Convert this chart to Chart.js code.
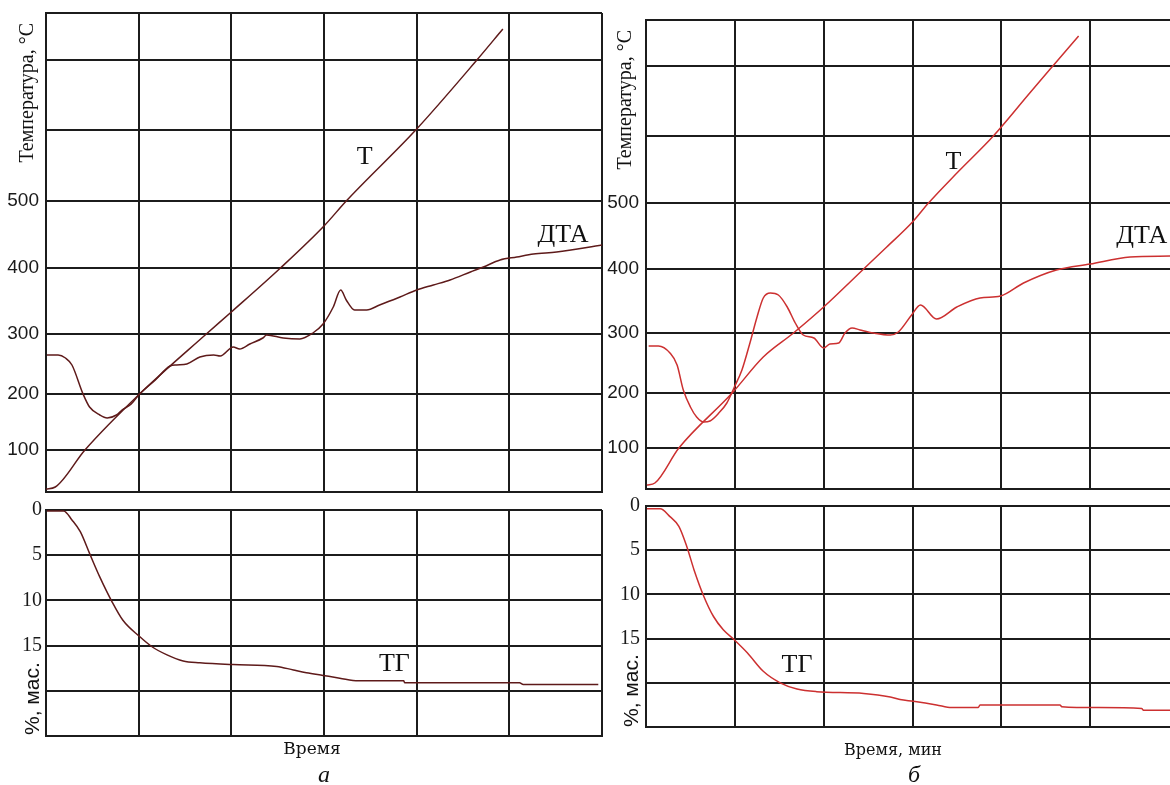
<!DOCTYPE html>
<html lang="ru">
<head>
<meta charset="utf-8">
<title>ДТА / ТГ</title>
<script src="https://cdn.jsdelivr.net/npm/chart.js@4.4.1/dist/chart.umd.min.js"></script>
<style>
  html, body { margin: 0; padding: 0; background: #fff; }
  body { position: relative; width: 1170px; height: 785px; overflow: hidden; }
  canvas { position: absolute; }
  #aTop { left: 0; top: 0; }
  #aTg { left: 0; top: 495px; }
  #bTop { left: 590px; top: 0; }
  #bTg { left: 590px; top: 495px; }
</style>
</head>
<body>
<canvas id="aTop" width="612" height="500"></canvas>
<canvas id="aTg" width="612" height="290"></canvas>
<canvas id="bTop" width="600" height="495"></canvas>
<canvas id="bTg" width="600" height="290"></canvas>
<script>
// time axis in grid divisions
const timeTicks = [0, 1, 2, 3, 4, 5, 6];

// temperature axis: chart deflection, grid lines are not evenly spaced
const aTempTicks = [0, 42, 98, 158, 224, 291, 362, 432, 479];
const bTempTicks = [0, 41, 96, 156, 220, 286, 353, 423, 469];
const tempLabels = ['', '100', '200', '300', '400', '500', '', '', ''];

// mass loss, %
const tgTicks = [0, 5, 10, 15, 20, 25];
const tgLabels = ['0', '5', '10', '15', '', ''];

// panel a  [time, value]
const aT = [[0, 3], [0.10, 5], [0.42, 42], [1.01, 98], [1.73, 158], [2.00, 180], [2.53, 224],
  [3.00, 266], [3.24, 291], [4.00, 363], [4.65, 432], [4.93, 463]];
const aDta = [[0.01, 137], [0.13, 137], [0.21, 134], [0.28, 127], [0.40, 98], [0.47, 85], [0.58, 77],
  [0.66, 74], [0.76, 77], [0.82, 82], [0.92, 88], [1.01, 98], [1.18, 112], [1.34, 126], [1.41, 127],
  [1.52, 128], [1.66, 135], [1.81, 137], [1.88, 136], [2.02, 145], [2.09, 143], [2.20, 148],
  [2.34, 154], [2.38, 157], [2.56, 154], [2.74, 153], [2.88, 159], [2.99, 168], [3.10, 185],
  [3.18, 202], [3.24, 192], [3.33, 182], [3.46, 182], [3.60, 187], [3.82, 195], [4.00, 202],
  [4.18, 207], [4.36, 212], [4.58, 220], [4.72, 225], [4.90, 232], [5.08, 235], [5.26, 238],
  [5.51, 240], [6.00, 247]];
const aTg = [[0.01, 0.1], [0.19, 0.1], [0.28, 1.1], [0.37, 2.4], [0.47, 4.8], [0.58, 7.4], [0.71, 10.1],
  [0.83, 12.2], [1.01, 14.0], [1.14, 15.1], [1.30, 16.0], [1.48, 16.7], [1.66, 16.9], [2.02, 17.1],
  [2.49, 17.3], [2.67, 17.7], [2.81, 18.0], [2.99, 18.3], [3.17, 18.6], [3.37, 18.9], [3.86, 18.9],
  [3.87, 19.1], [5.11, 19.1], [5.15, 19.3], [5.96, 19.3]];

// panel b
const bT = [[0.01, 4], [0.10, 6], [0.37, 41], [0.97, 96], [1.32, 132], [1.66, 156], [2.00, 182],
  [2.45, 220], [2.71, 242], [3.00, 267], [3.18, 286], [3.50, 316], [3.91, 353], [4.32, 396],
  [4.58, 423], [4.87, 453]];
const bDta = [[0.03, 143], [0.14, 143], [0.27, 136], [0.35, 124], [0.42, 99], [0.50, 82], [0.57, 72],
  [0.65, 67], [0.72, 68], [0.82, 76], [0.91, 86], [0.99, 101], [1.08, 119], [1.17, 146], [1.25, 172],
  [1.32, 191], [1.40, 196], [1.49, 194], [1.59, 182], [1.68, 166], [1.77, 154], [1.89, 151],
  [2.00, 141], [2.07, 145], [2.17, 146], [2.24, 156], [2.32, 161], [2.41, 159], [2.56, 156],
  [2.75, 154], [2.84, 157], [2.99, 174], [3.09, 184], [3.27, 170], [3.50, 182], [3.76, 191],
  [3.99, 193], [4.25, 206], [4.62, 219], [5.00, 225], [5.45, 232], [5.90, 233]];
const bTg = [[0.01, 0.3], [0.16, 0.3], [0.27, 1.2], [0.37, 2.3], [0.46, 4.6], [0.54, 7.2], [0.65, 10.2],
  [0.76, 12.5], [0.87, 14.0], [0.99, 15.1], [1.14, 16.6], [1.32, 18.7], [1.51, 20.0], [1.70, 20.7],
  [1.92, 21.0], [2.45, 21.2], [2.75, 21.6], [2.86, 21.9], [3.01, 22.1], [3.27, 22.5], [3.44, 22.8],
  [3.74, 22.8], [3.76, 22.5], [4.66, 22.5], [4.68, 22.7], [5.09, 22.8], [5.58, 22.9], [5.60, 23.1],
  [5.90, 23.1]];

const GRID = '#1c1c1c';
const pts = arr => arr.map(([x, y]) => ({x, y}));

// curve names, captions and the rotated mass-loss title
const textPlugin = {
	id: 'texts',
	afterDraw(chart, args, opts) {
		const {ctx, chartArea, scales} = chart;
		(opts.items || []).forEach(t => {
			const px = t.dx !== undefined ? chartArea.left + t.dx : scales.x.getPixelForValue(t.x);
			const py = t.dy !== undefined ? chartArea.bottom + t.dy : scales.y.getPixelForValue(t.y);
			ctx.save();
			ctx.fillStyle = '#111';
			ctx.font = t.font;
			ctx.textAlign = t.align || 'center';
			ctx.textBaseline = 'middle';
			ctx.translate(px, py);
			if (t.rot) ctx.rotate(t.rot);
			ctx.fillText(t.text, 0, 0);
			ctx.restore();
		});
	}
};

function panel(id, o) {
	return new Chart(document.getElementById(id), {
		type: 'line',
		data: {
			datasets: o.series.map(s => ({
				data: pts(s),
				borderColor: o.color,
				borderWidth: 1.5,
				pointRadius: 0,
				cubicInterpolationMode: 'monotone',
				fill: false
			}))
		},
		options: {
			responsive: false,
			animation: false,
			devicePixelRatio: 1,
			layout: { padding: o.padding },
			plugins: {
				legend: { display: false },
				tooltip: { enabled: false },
				texts: { items: o.texts }
			},
			scales: {
				x: {
					type: 'linear',
					min: 0,
					max: 6,
					afterBuildTicks: s => { s.ticks = timeTicks.map(v => ({value: v})); },
					afterFit: s => { s.height = 0; s.paddingLeft = 0; s.paddingRight = 0; },
					ticks: { display: false },
					grid: { color: GRID, lineWidth: 2, drawTicks: false },
					border: { color: GRID, width: 2 }
				},
				y: {
					type: 'linear',
					min: 0,
					max: o.yTicks[o.yTicks.length - 1],
					reverse: !!o.reverse,
					afterBuildTicks: s => { s.ticks = o.yTicks.map(v => ({value: v})); },
					afterFit: s => { s.width = o.axisWidth; s.paddingTop = 0; s.paddingBottom = 0; },
					ticks: {
						autoSkip: false,
						padding: o.tickPad,
						color: '#1a1a1a',
						font: o.tickFont,
						callback: (v, i) => o.yLabels[i]
					},
					grid: { color: GRID, lineWidth: 2, drawTicks: false },
					border: { color: GRID, width: 2 },
					title: {
						display: !!o.title,
						text: o.title,
						align: 'end',
						color: '#111',
						font: { family: 'Liberation Serif', size: 20 },
						padding: { top: o.titlePad, bottom: 0 }
					}
				}
			}
		},
		plugins: [textPlugin]
	});
}

const tempTitle = 'Температура, °С\u2002';
const massTitle = '%, мас.';
const massTitleFont = '21px "Liberation Sans"';
const tempTickFont = { family: 'Liberation Sans', size: 19 };
const massTickFont = { family: 'Liberation Serif', size: 20 };
const curveFont = '26px "Liberation Serif"';
const UP = -Math.PI / 2;

panel('aTop', {
	series: [aT, aDta],
	color: '#5e1a1a',
	padding: { top: 13, right: 10, bottom: 8, left: 0 },
	axisWidth: 46,
	yTicks: aTempTicks,
	yLabels: tempLabels,
	tickFont: tempTickFont,
	tickPad: 7,
	title: tempTitle,
	titlePad: 16,
	texts: [
		{ text: 'Т', x: 3.44, y: 335, font: curveFont },
		{ text: 'ДТА', x: 5.58, y: 257, font: curveFont }
	]
});

panel('aTg', {
	series: [aTg],
	color: '#5e1a1a',
	padding: { top: 15, right: 10, bottom: 49, left: 0 },
	axisWidth: 46,
	reverse: true,
	yTicks: tgTicks,
	yLabels: tgLabels,
	tickFont: massTickFont,
	tickPad: 4,
	texts: [
		{ text: massTitle, dx: -13, dy: -1, font: massTitleFont, align: 'left', rot: UP },
		{ text: 'ТГ', x: 3.76, y: 17.0, font: curveFont },
		{ text: 'Время', dx: 266, dy: 14, font: '17px "DejaVu Serif"' },
		{ text: 'а', dx: 278, dy: 40, font: 'italic 24px "Liberation Serif"' }
	]
});

panel('bTop', {
	series: [bT, bDta],
	color: '#cc3030',
	padding: { top: 20, right: 11, bottom: 6, left: 0 },
	axisWidth: 56,
	yTicks: bTempTicks,
	yLabels: tempLabels,
	tickFont: tempTickFont,
	tickPad: 7,
	title: tempTitle,
	titlePad: 24,
	texts: [
		{ text: 'Т', x: 3.46, y: 327, font: curveFont },
		{ text: 'ДТА', x: 5.58, y: 253, font: curveFont }
	]
});

panel('bTg', {
	series: [bTg],
	color: '#cc3030',
	padding: { top: 11, right: 11, bottom: 58, left: 0 },
	axisWidth: 56,
	reverse: true,
	yTicks: tgTicks,
	yLabels: tgLabels,
	tickFont: massTickFont,
	tickPad: 6,
	texts: [
		{ text: massTitle, dx: -14, dy: 0, font: massTitleFont, align: 'left', rot: UP },
		{ text: 'ТГ', x: 1.70, y: 18.0, font: curveFont },
		{ text: 'Время, мин', dx: 247, dy: 24, font: '16px "DejaVu Serif"' },
		{ text: 'б', dx: 268, dy: 49, font: 'italic 24px "Liberation Serif"' }
	]
});
</script>
</body>
</html>
